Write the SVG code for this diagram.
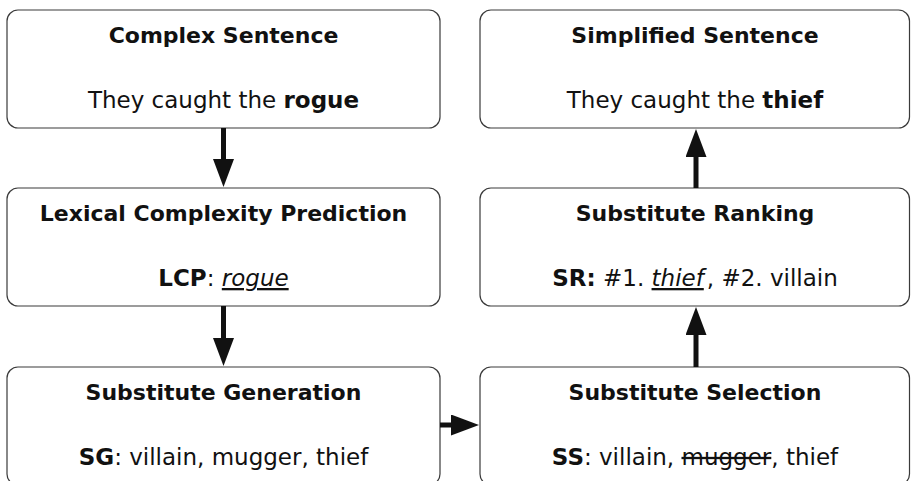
<svg xmlns="http://www.w3.org/2000/svg" width="911" height="481" viewBox="0 0 911 481">
<style>
.box{fill:#fff;stroke:#3a3a3a;stroke-width:1.2}
.t{font-family:"DejaVu Sans",sans-serif;font-size:22px;font-weight:bold;fill:#111;text-anchor:middle}
.b{font-family:"DejaVu Sans",sans-serif;font-size:23px;fill:#111;text-anchor:middle}
.bd{font-weight:bold}
.it{font-style:italic}
.con{stroke:#111;stroke-width:5;fill:none}
</style>
<defs>
<marker id="ah" markerUnits="userSpaceOnUse" markerWidth="28" markerHeight="21" refX="1" refY="10.5" orient="auto" viewBox="0 0 28 21">
<path d="M0,0 L28,10.5 L0,21 z" fill="#111"/>
</marker>
</defs>
<rect width="911" height="481" fill="#fff"/>
<g id="complex">
<rect class="box" x="7" y="10" width="433" height="118" rx="11"/>
<text class="t" x="223.5" y="43">Complex Sentence</text>
<text class="b" x="223.5" y="108">They caught the <tspan class="bd">rogue</tspan></text>
</g>
<g id="simplified">
<rect class="box" x="480" y="10" width="429.5" height="118" rx="11"/>
<text class="t" x="695" y="43">Simplified Sentence</text>
<text class="b" x="695" y="108">They caught the <tspan class="bd">thief</tspan></text>
</g>
<g id="lcp">
<rect class="box" x="7" y="188" width="433" height="118" rx="11"/>
<text class="t" x="223.5" y="221">Lexical Complexity Prediction</text>
<text class="b" x="223.5" y="286"><tspan class="bd">LCP</tspan>: <tspan class="it" text-decoration="underline">rogue</tspan></text>
</g>
<g id="sr">
<rect class="box" x="480" y="188" width="429.5" height="118" rx="11"/>
<text class="t" x="695" y="221">Substitute Ranking</text>
<text class="b" x="695" y="286"><tspan class="bd">SR:</tspan> #1. <tspan class="it" text-decoration="underline">thief</tspan><tspan dx="3">, #2. villain</tspan></text>
</g>
<g id="sg">
<rect class="box" x="7" y="367" width="433" height="118" rx="11"/>
<text class="t" x="223.5" y="400">Substitute Generation</text>
<text class="b" x="223.5" y="465"><tspan class="bd">SG</tspan>: villain, mugger, thief</text>
</g>
<g id="ss">
<rect class="box" x="480" y="367" width="429.5" height="118" rx="11"/>
<text class="t" x="695" y="400">Substitute Selection</text>
<text class="b" x="695" y="465"><tspan class="bd">SS</tspan>: villain, <tspan text-decoration="line-through">mugger</tspan>, thief</text>
</g>
<g id="connectors">
<line class="con" x1="223.5" y1="128" x2="223.5" y2="160" marker-end="url(#ah)"/>
<line class="con" x1="223.5" y1="306" x2="223.5" y2="339" marker-end="url(#ah)"/>
<line class="con" x1="440" y1="425" x2="452" y2="425" marker-end="url(#ah)"/>
<line class="con" x1="696" y1="367" x2="696" y2="334" marker-end="url(#ah)"/>
<line class="con" x1="696" y1="188" x2="696" y2="156" marker-end="url(#ah)"/>
</g>
</svg>
